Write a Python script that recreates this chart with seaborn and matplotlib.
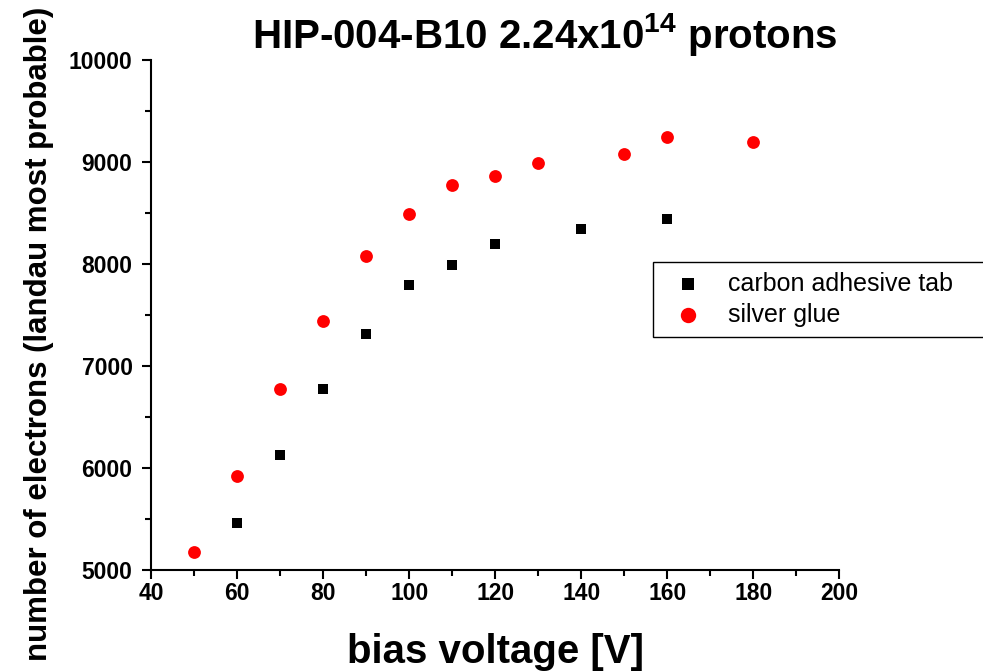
import matplotlib
matplotlib.use("Agg")
import matplotlib.pyplot as plt
import seaborn as sns
import pandas as pd
from matplotlib.ticker import MultipleLocator

sns.set_theme(style="white")
plt.rcParams['font.family'] = ['Liberation Sans', 'DejaVu Sans']
plt.rcParams['mathtext.fontset'] = 'custom'
plt.rcParams['mathtext.rm'] = 'Liberation Sans'
plt.rcParams['mathtext.bf'] = 'Liberation Sans:bold'
for k in ['text.color', 'axes.labelcolor', 'xtick.color', 'ytick.color', 'axes.edgecolor']:
    plt.rcParams[k] = 'black'

carbon_v = [60, 70, 80, 90, 100, 110, 120, 140, 160]
carbon_e = [5455, 6124, 6769, 7314, 7788, 7987, 8193, 8343, 8441]
silver_v = [50, 60, 70, 80, 90, 100, 110, 120, 130, 150, 160, 180]
silver_e = [5173, 5922, 6769, 7441, 8073, 8484, 8775, 8863, 8990, 9075, 9242, 9196]
series_names = ["carbon adhesive tab", "silver glue"]
x_ticks = [40, 60, 80, 100, 120, 140, 160, 180, 200]
y_ticks = [5000, 6000, 7000, 8000, 9000, 10000]

df_c = pd.DataFrame({"v": carbon_v, "e": carbon_e})
df_s = pd.DataFrame({"v": silver_v, "e": silver_e})

fig = plt.figure(figsize=(9.83, 6.72), dpi=100)
ax = fig.add_axes([0.1539, 0.1522, 0.6999, 0.759])

sns.scatterplot(data=df_c, x="v", y="e", marker="s", color="black", s=52,
                linewidth=0, label=series_names[0], ax=ax)
sns.scatterplot(data=df_s, x="v", y="e", marker="o", color="red", s=85,
                linewidth=0, label=series_names[1], ax=ax)

ax.set_xlim(40, 200)
ax.set_ylim(5000, 10000)
ax.set_xticks(x_ticks)
ax.set_yticks(y_ticks)
ax.xaxis.set_minor_locator(MultipleLocator(10))
ax.yaxis.set_minor_locator(MultipleLocator(500))

for side in ["top", "right"]:
    ax.spines[side].set_visible(False)
for side in ["left", "bottom"]:
    ax.spines[side].set_color("black")
    ax.spines[side].set_linewidth(1.5)

ax.tick_params(which="major", direction="out", length=6.5, width=1.5, color="black",
               labelsize=16.5, left=True, bottom=True, labelcolor="black")
ax.tick_params(axis="x", which="major", pad=2)
ax.tick_params(axis="y", which="major", pad=7)
ax.tick_params(which="minor", direction="out", length=4, width=1.5, color="black",
               left=True, bottom=True)
for lab in ax.get_xticklabels() + ax.get_yticklabels():
    lab.set_fontweight("bold")

ax.set_xlabel("bias voltage [V]", fontsize=29, fontweight="bold", color="black")
ax.set_ylabel("number of electrons (landau most probable)", fontsize=22.5,
              fontweight="bold", color="black")
ax.xaxis.set_label_coords(0.5, -0.1235)
ax.yaxis.set_label_coords(-0.142, 0.462)

fig.text(0.554, 0.9286, r"HIP-004-B10 2.24x10$^{\mathbf{14}}$ protons",
         fontsize=29, fontweight="bold", ha="center", va="baseline", color="black")

leg = ax.legend(loc="upper left", bbox_to_anchor=(0.6643, 0.45, 0.36, 0.1601),
                bbox_transform=fig.transFigure, mode="expand", borderaxespad=0,
                fontsize=18, frameon=True, fancybox=False, edgecolor="black",
                framealpha=1, borderpad=0.4, labelspacing=0.28,
                handlelength=2.0, handletextpad=0.6, markerscale=1.2)
leg.get_frame().set_linewidth(1.0)
for t in leg.get_texts():
    t.set_color("black")

fig.savefig("out.png", dpi=100)
